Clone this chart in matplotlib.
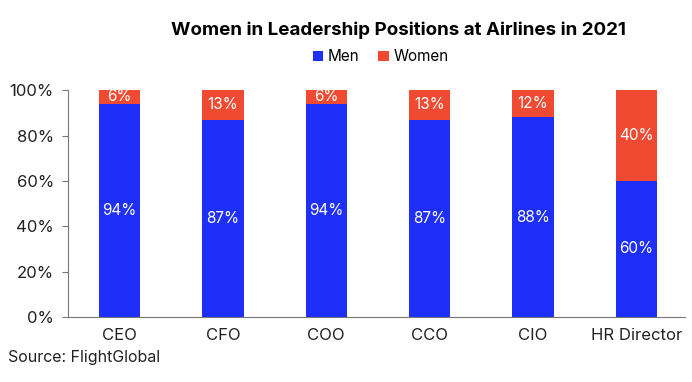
import matplotlib.pyplot as plt
from matplotlib.ticker import PercentFormatter

plt.rcParams['font.family'] = ['Inter', 'DejaVu Sans']

roles = ['CEO', 'CFO', 'COO', 'CCO', 'CIO', 'HR Director']
men = [94, 87, 94, 87, 88, 60]
women = [6, 13, 6, 13, 12, 40]

blue = '#1f2ffa'
red = '#f04a32'

fig = plt.figure(figsize=(6.92, 3.82), dpi=100)
ax = fig.add_axes([0.098, 0.170, 0.892, 0.594])

x = range(len(roles))
b1 = ax.bar(x, men, width=0.4, color=blue, label='Men')
b2 = ax.bar(x, women, width=0.4, bottom=men, color=red, label='Women')

# value labels in the middle of each segment
for i in x:
    ax.text(i, men[i] / 2, f'{men[i]}%', ha='center', va='center',
            color='white', fontsize=11)
    ax.text(i, men[i] + women[i] / 2, f'{women[i]}%', ha='center',
            va='center', color='white', fontsize=11)

ax.set_xlim(-0.5, 5.47)
ax.set_ylim(0, 100)
ax.set_yticks([0, 20, 40, 60, 80, 100])
ax.yaxis.set_major_formatter(PercentFormatter(decimals=0))
ax.set_xticks(list(x))
ax.set_xticklabels(roles)
ax.tick_params(axis='x', length=0, pad=8, labelsize=12, colors='#222222')
ax.tick_params(axis='y', length=4, width=0.8, color='#777777', pad=6,
               labelsize=12, labelcolor='#222222')
ax.spines['top'].set_visible(False)
ax.spines['right'].set_visible(False)
ax.spines['left'].set_color('#777777')
ax.spines['bottom'].set_color('#777777')

fig.text(0.576, 0.92, 'Women in Leadership Positions at Airlines in 2021',
         ha='center', va='center', fontsize=13.5, fontweight='bold')
fig.legend(handles=[b1, b2], loc='center', bbox_to_anchor=(0.55, 0.851),
           ncol=2, frameon=False, fontsize=11, handlelength=0.7,
           handleheight=0.7, handletextpad=0.3, columnspacing=1.2)
fig.text(0.012, 0.065, 'Source: FlightGlobal', ha='left', va='center',
         fontsize=11.5, color='#222222')

plt.savefig('out.png', dpi=100)
plt.close()
